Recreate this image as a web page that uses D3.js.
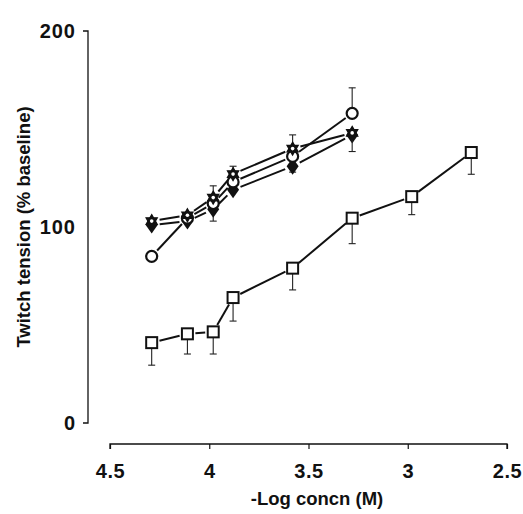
<!DOCTYPE html>
<html><head><meta charset="utf-8">
<script src="https://cdn.jsdelivr.net/npm/d3@7/dist/d3.min.js"></script>
<style>body{margin:0;background:#fff}svg{display:block}text{font-family:"Liberation Sans",Arial,sans-serif;fill:#111}</style>
</head><body>
<svg id="c" width="523" height="514"></svg>
<script>
// ---- data ----
const xTicks = [4.5, 4, 3.5, 3, 2.5];
const yTicks = [0, 100, 200];

const circleX = [4.29, 4.11, 3.98, 3.88, 3.58, 3.28];
const circleY = [85, 104.5, 112, 123, 136, 158];
const circleUp = [0, 0, 0, 0, 11, 13];
const circleDown = [0, 0, 0, 0, 0, 0];

const starX = [4.29, 4.11, 3.98, 3.88, 3.58, 3.28];
const starY = [103, 106, 115, 127, 140, 148];
const starUp = [0, 0, 6, 4, 0, 0];
const starDown = [0, 0, 0, 0, 0, 9.5];

const diamondX = [4.29, 4.11, 3.98, 3.88, 3.58, 3.28];
const diamondY = [101, 103, 109, 119, 131, 147];
const diamondUp = [0, 0, 0, 0, 0, 0];
const diamondDown = [0, 0, 6, 0, 3, 0];

const squareX = [4.29, 4.11, 3.98, 3.88, 3.58, 3.28, 2.98, 2.68];
const squareY = [41, 45.5, 46.5, 64, 79, 104.5, 115.5, 138];
const squareUp = [0, 0, 0, 0, 0, 0, 0, 0];
const squareDown = [11.5, 10.3, 11.3, 12, 11.1, 13, 9.2, 11.1];

// ---- drawing ----
const svg = d3.select("#c");
const x = d3.scaleLinear().domain([4.5, 2.5]).range([110, 507]);
const y = d3.scaleLinear().domain([0, 200]).range([423, 31]);
const FONT = "Liberation Sans, Arial, sans-serif";

// axes
const yAxis = d3.axisLeft(y).tickValues(yTicks).tickSize(5).tickPadding(7).tickFormat(d3.format("d"));
const gy = svg.append("g").attr("transform", "translate(88,0)").call(yAxis);
gy.select(".domain").attr("d", `M-5,${y(200)}H0V${y(0)}H-5`).attr("stroke", "#111").attr("stroke-width", 1.3);
gy.selectAll(".tick line").remove();
gy.selectAll("text").attr("font-size", 20).attr("font-weight", "bold").attr("letter-spacing", 1)
  .attr("dy", "0.3em").style("font-family", FONT).attr("fill", "#111");

const xAxis = d3.axisBottom(x).tickValues(xTicks).tickSize(5).tickPadding(15).tickFormat(d => String(d));
const gx = svg.append("g").attr("transform", "translate(0,444)").call(xAxis);
gx.select(".domain").attr("d", `M${x(4.5)},5V0H${x(2.5)}V5`).attr("stroke", "#111").attr("stroke-width", 1.3);
gx.selectAll(".tick line").attr("stroke", "#111").attr("stroke-width", 1.2);
gx.selectAll("text").attr("font-size", 20).attr("font-weight", "bold").attr("letter-spacing", 0.5)
  .style("font-family", FONT).attr("fill", "#111");

svg.append("text").attr("x", 317).attr("y", 505).attr("text-anchor", "middle")
  .attr("font-size", 18.5).attr("font-weight", "bold").text("-Log concn (M)");
svg.append("text").attr("transform", "translate(30,227) rotate(-90)").attr("text-anchor", "middle")
  .attr("font-size", 18.5).attr("font-weight", "bold").text("Twitch tension (% baseline)");

function series(xs, ys, ups, downs, marker) {
  const pts = xs.map((v, i) => ({ px: x(v), py: y(ys[i]), up: ups[i], down: downs[i], v: ys[i] }));
  const g = svg.append("g");
  // error bars
  pts.forEach(p => {
    [[p.up, 1], [p.down, -1]].forEach(([e, s]) => {
      if (e <= 0) return;
      const t = y(p.v + s * e);
      g.append("line").attr("x1", p.px).attr("x2", p.px).attr("y1", p.py).attr("y2", t).attr("stroke", "#222").attr("stroke-width", 1.1);
      g.append("line").attr("x1", p.px - 3.5).attr("x2", p.px + 3.5).attr("y1", t).attr("y2", t).attr("stroke", "#222").attr("stroke-width", 1.1);
    });
  });
  // connecting segments with gaps
  for (let i = 0; i < pts.length - 1; i++) {
    const a = pts[i], b = pts[i + 1];
    const dx = b.px - a.px, dy = b.py - a.py, L = Math.hypot(dx, dy), gap = 8;
    if (L <= 2 * gap) continue;
    g.append("line")
      .attr("x1", a.px + dx / L * gap).attr("y1", a.py + dy / L * gap)
      .attr("x2", b.px - dx / L * gap).attr("y2", b.py - dy / L * gap)
      .attr("stroke", "#111").attr("stroke-width", 2);
  }
  // markers
  pts.forEach(p => {
    if (marker === "circle") {
      g.append("circle").attr("cx", p.px).attr("cy", p.py).attr("r", 5.5).attr("fill", "#fff").attr("stroke", "#111").attr("stroke-width", 2.2);
    } else if (marker === "square") {
      g.append("rect").attr("x", p.px - 5.5).attr("y", p.py - 5.5).attr("width", 11).attr("height", 11).attr("fill", "#fff").attr("stroke", "#111").attr("stroke-width", 2);
    } else if (marker === "diamond") {
      g.append("path").attr("d", `M${p.px},${p.py - 8.5}L${p.px + 6},${p.py}L${p.px},${p.py + 8.5}L${p.px - 6},${p.py}Z`).attr("fill", "#111");
    } else if (marker === "star") {
      const r = 6.5;
      const tri = a0 => d3.range(3).map(k => {
        const a = a0 + k * 2 * Math.PI / 3;
        return [p.px + r * Math.cos(a), p.py + r * Math.sin(a)];
      });
      [tri(-Math.PI / 2), tri(Math.PI / 2)].forEach(t =>
        g.append("path").attr("d", "M" + t.join("L") + "Z").attr("fill", "#111").attr("stroke", "#111").attr("stroke-width", 1.2));
      g.append("circle").attr("cx", p.px).attr("cy", p.py).attr("r", 1.8).attr("fill", "#fff");
    }
  });
}

series(squareX, squareY, squareUp, squareDown, "square");
series(diamondX, diamondY, diamondUp, diamondDown, "diamond");
series(circleX, circleY, circleUp, circleDown, "circle");
series(starX, starY, starUp, starDown, "star");
</script>
</body></html>
